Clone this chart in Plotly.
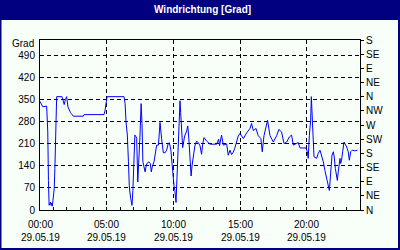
import plotly.graph_objects as go

DATE = "2019-05-29"
times = ["00:00","00:06","00:12","00:30","00:35","00:38","00:41","00:47","00:50","00:52",
         "00:55","00:58","01:01","01:04","01:07","01:10","01:15","01:39","01:45","01:49",
         "01:54","02:00","02:06","02:12","02:17","02:21","02:25","02:30","03:15","03:18",
         "04:48","04:53","04:57","05:02","06:18","06:23","06:27","06:33","06:38","06:42",
         "06:48","06:54","06:58","07:03","07:07","07:11","07:15","07:20","07:24","07:30",
         "07:35","07:39","07:43","07:48","07:53","07:57","08:01","08:10","08:16","08:21",
         "08:25","08:33","08:39","08:45","08:53","09:00","09:07","09:15","09:23","09:30",
         "09:37","09:42","09:49","09:52","09:56","10:00","10:03","10:07","10:12","10:15",
         "10:20","10:25","10:30","10:33","10:37","10:42","10:47","10:51","11:00","11:05",
         "11:09","11:15","11:20","11:24","11:30","11:37","11:45","11:53","12:00","12:03",
         "12:07","12:12","12:18","12:30","12:45","13:15","13:19","13:24","13:28","13:37",
         "13:45","14:00","14:07","14:15","14:22","14:30","14:36","14:42","14:52","15:00",
         "15:15","15:30","15:45","15:52","16:00","16:12","16:22","16:34","16:40","16:48",
         "17:00","17:04","17:15","17:30","17:45","17:55","18:07","18:18","18:30","18:42",
         "18:52","19:00","19:12","19:22","19:30","19:45","19:57","20:03","20:07","20:12",
         "20:18","20:21","20:24","20:27","20:30","20:33","20:45","20:52","21:00","21:07",
         "21:15","21:22","21:30","21:37","21:42","21:45","21:49","21:54","22:00","22:04",
         "22:09","22:13","22:18","22:22","22:27","22:30","22:33","22:37","22:42","22:48",
         "22:52","23:00","23:07","23:12","23:18","23:25","23:37","23:48"]
values = [345,333,328,330,248,94,15,25,15,22,
          12,28,43,68,132,280,360,360,343,335,
          350,360,327,315,310,306,303,298,298,303,
          303,317,338,360,360,338,280,238,153,73,
          37,15,62,153,238,234,228,89,142,238,
          338,275,153,137,121,137,148,153,148,121,
          137,153,182,206,206,278,228,182,182,190,
          211,214,190,161,129,87,76,62,24,76,
          161,267,347,310,251,198,219,235,251,267,
          235,151,108,140,172,204,219,213,204,193,
          177,209,230,219,209,209,219,225,204,238,
          206,210,174,190,176,184,195,211,235,243,
          227,245,259,275,252,259,236,227,185,236,
          269,285,236,216,236,256,248,211,216,232,
          238,206,211,214,197,197,197,185,164,236,
          285,360,307,250,206,169,164,180,190,174,
          153,126,100,79,62,89,121,174,185,169,
          132,110,94,121,158,164,148,158,185,216,
          211,200,185,158,185,190,188,190]

title = "Windrichtung [Grad]"
y_label = "Grad"
left_ticks = [0, 70, 140, 210, 280, 350, 420, 490]
right_tickvals = [0, 45, 90, 135, 180, 225, 270, 315, 360, 405, 450, 495, 540]
right_ticktext = ["N", "NE", "E", "SE", "S", "SW", "W", "NW", "N", "NE", "E", "SE", "S"]
x_tick_times = ["00:00", "05:00", "10:00", "15:00", "20:00"]
x_tick_date = "29.05.19"

W, H = 400, 250
L, R, T, B = 40, 40, 40, 40
PW, PH = W - L - R, H - T - B
def px(x): return (x - L) / PW
def py(y): return 1 - (y - T) / PH

BG = "#F8FFF8"
NAVY = "#000080"
FONT = "Liberation Sans"
FS = 10

fig = go.Figure()
fig.add_trace(go.Scatter(
    x=[f"{DATE} {t}" for t in times], y=values, mode="lines",
    line=dict(color="#0000FF", width=1), showlegend=False, hoverinfo="skip"))

# x tick labels (time + date, two lines) placed on the x scale
xlabel_annots = [
    dict(text=f"{t}<br>{x_tick_date}", xref="x", yref="paper",
         x=f"{DATE} {t}", y=py(216.5), xanchor="center", yanchor="top",
         showarrow=False, align="center",
         font=dict(family=FONT, size=FS, color="black"))
    for t in x_tick_times
]

fig.update_layout(
    width=W, height=H, margin=dict(l=L, r=R, t=T, b=B, pad=0),
    paper_bgcolor=BG, plot_bgcolor=BG,
    font=dict(family=FONT, size=FS, color="black"),
    xaxis=dict(
        type="date", range=[f"{DATE} 00:00", "2019-05-30 00:00"], automargin=False,
        tickmode="array",
        tickvals=[f"{DATE} {t}" for t in x_tick_times],
        showticklabels=False,
        showgrid=True, gridcolor="black", gridwidth=1, griddash="4px,3px",
        showline=True, linecolor="black", linewidth=1, mirror=True,
        ticks="inside", ticklen=3, tickcolor="black",
        minor=dict(tickmode="linear", tick0=f"{DATE} 00:00", dtick=3600000,
                   ticks="inside", ticklen=3, tickcolor="black", showgrid=False),
        zeroline=False, fixedrange=True),
    yaxis=dict(
        range=[0, 540], tickmode="array", tickvals=left_ticks, automargin=False,
        showgrid=True, gridcolor="black", gridwidth=1, griddash="4px,3px",
        showline=True, linecolor="black", linewidth=1, mirror=True,
        ticks="", zeroline=False, tickfont=dict(size=FS), ticklabelstandoff=2),
    yaxis2=dict(
        range=[0, 540], overlaying="y", side="right", tickmode="array", automargin=False,
        tickvals=right_tickvals, ticktext=right_ticktext,
        showgrid=False, showline=False, zeroline=False,
        ticks="outside", ticklen=3, tickcolor="black", tickfont=dict(size=FS)),
    shapes=[
        dict(type="rect", xref="paper", yref="paper", layer="below",
             x0=px(0), x1=px(W), y0=py(20), y1=py(0),
             fillcolor=NAVY, line=dict(width=0)),
        dict(type="rect", xref="paper", yref="paper", layer="above",
             x0=px(0.5), x1=px(399), y0=py(249), y1=py(0.5),
             fillcolor="rgba(0,0,0,0)", line=dict(color=NAVY, width=2)),
    ],
    annotations=[
        dict(text=f"<b>{title}</b>", xref="paper", yref="paper", x=px(202), y=py(10),
             xanchor="center", yanchor="middle", showarrow=False,
             font=dict(family=FONT, size=10, color="white")),
        dict(text=y_label, xref="paper", yref="paper", x=px(36), y=py(43.5),
             xanchor="right", yanchor="middle", showarrow=False,
             font=dict(family=FONT, size=FS, color="black")),
    ] + xlabel_annots,
)
fig.add_trace(go.Scatter(x=[f"{DATE} 00:00"], y=[0], yaxis="y2", mode="markers",
                         marker=dict(opacity=0), showlegend=False, hoverinfo="skip"))

fig.write_html("out.html")
